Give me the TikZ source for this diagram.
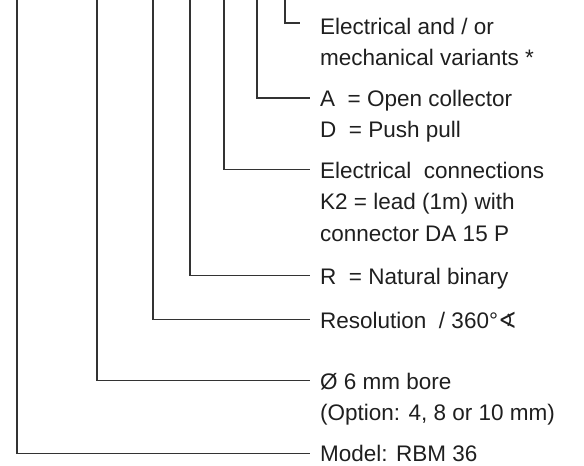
\documentclass[tikz,border=0pt]{standalone}
\usepackage{fontspec}
\setmainfont{Liberation Sans}
\newfontfamily\symfont{DejaVu Sans}
\begin{document}
\begin{tikzpicture}[x=1pt,y=-1pt,
  lbl/.style={anchor=base west, inner sep=0pt, align=left,
    font=\fontsize{22.5}{31.5}\selectfont, text=black!88},
  lead/.style={draw=black!80, line width=1.2pt}]
\useasboundingbox (0,0) rectangle (584,466);
% labels (base anchor = baseline of the last line)
\node[lbl] (var) at (320,65.5) {Electrical and / or\\mechanical variants *};
\node[lbl] (out) at (320,137.5) {A\ \ = Open collector\\D\ \ = Push pull};
\node[lbl] (con) at (320,241) {Electrical\ \ connections\\K2 = lead (1m) with\\connector DA 15 P};
\node[lbl] (cod) at (320,284) {R\ \ = Natural binary};
\node[lbl] (res) at (320,328) {Resolution\ \ /\ 360°{\symfont ∢}};
\node[lbl] (bor) at (320,420.5) {Ø 6 mm bore\\(Option: 4, 8 or 10 mm)};
\node[lbl] (mod) at (320,461.5) {Model: RBM 36};
% free top ends
\coordinate (tvar) at (285,0);
\coordinate (tout) at (257,0);
\coordinate (tcon) at (224,0);
\coordinate (tcod) at (190,0);
\coordinate (tres) at (153,0);
\coordinate (tbor) at (97,0);
\coordinate (tmod) at (17,0);
% leaders
\draw[lead] (tvar) |- ([xshift=-20pt,yshift=42.5pt]var.base west);
\draw[lead] (tout) |- ([xshift=-10pt,yshift=39.5pt]out.base west);
\draw[lead] (tcon) |- ([xshift=-10pt,yshift=71.5pt]con.base west);
\draw[lead] (tcod) |- ([xshift=-10pt,yshift=8.5pt]cod.base west);
\draw[lead] (tres) |- ([xshift=-10pt,yshift=8.5pt]res.base west);
\draw[lead] (tbor) |- ([xshift=-10pt,yshift=40pt]bor.base west);
\draw[lead] (tmod) |- ([xshift=-10pt,yshift=8pt]mod.base west);
\end{tikzpicture}
\end{document}
